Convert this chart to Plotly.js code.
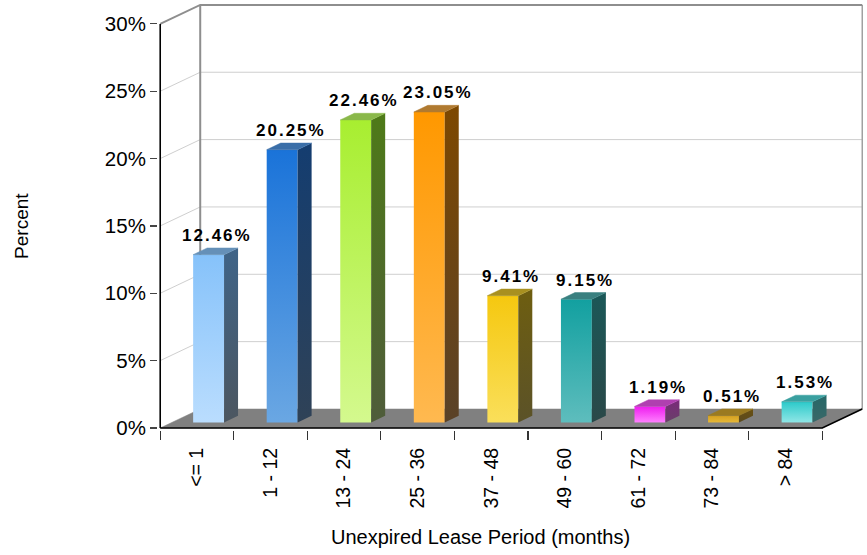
<!DOCTYPE html>
<html><head><meta charset="utf-8">
<script src="https://cdn.plot.ly/plotly-3.0.1.min.js"></script>
<style>html,body{margin:0;padding:0;background:#fff}</style>
</head><body><div id="chart" style="width:867px;height:555px"></div>
<script>
// ---- data ----
const categories = ["<= 1", "1 - 12", "13 - 24", "25 - 36", "37 - 48", "49 - 60", "61 - 72", "73 - 84", "> 84"];
const percents = [12.46, 20.25, 22.46, 23.05, 9.41, 9.15, 1.19, 0.51, 1.53];
const yTickValues = [0, 5, 10, 15, 20, 25, 30];
const yTickLabels = ["0%", "5%", "10%", "15%", "20%", "25%", "30%"];
const xTitle = "Unexpired Lease Period (months)";
const yTitle = "Percent";

// ---- styles ----
const frontTop    = ["#86C2FA","#1A73D9","#A8EE30","#FF9800","#F5C810","#12A0A0","#EE1CEE","#D4A020","#2CCACA"];
const frontBottom = ["#BADDFE","#6AA7E3","#D4F98E","#FFB950","#FADF5A","#5EBDBD","#FF80FF","#E6B838","#90E6E6"];
const sideTop     = ["#3F6488","#143D70","#4E7A18","#7D4800","#6E5E10","#1B5858","#7A2A7A","#6A5010","#266868"];
const sideBottom  = ["#4C5660","#2F4257","#4F5C3A","#5A4228","#5B5228","#2A4848","#684068","#5A4A20","#3A6868"];
const topFace     = ["#6590B8","#3A6EA8","#8AB84A","#B07A30","#A89020","#3A8080","#B040B0","#9A7A20","#3AA0A0"];

const DX = 0.544, DY = 1.41;       // depth offset (category units, percent units)
const W = 0.21, Z0 = 0.29, Z1 = 0.64, ZC = 0.5;
const FONT = "Liberation Sans, Arial, sans-serif";

function face(xs, ys, c0, c1, ystart, ystop){
  const t = {type:'scatter', mode:'lines', x:xs.concat([xs[0]]), y:ys.concat([ys[0]]),
    fill:'toself', line:{width:0.5, color:c1}, hoverinfo:'skip', showlegend:false};
  if (c0 === c1) { t.fillcolor = c1; }
  else { t.fillgradient = {type:'vertical', start:ystart, stop:ystop, colorscale:[[0, c0], [1, c1]]}; t.line.width = 0; }
  return t;
}
function line(xs, ys, color, width){
  return {type:'scatter', mode:'lines', x:xs, y:ys, line:{color:color, width:width}, hoverinfo:'skip', showlegend:false};
}

const traces = [];
const L = -0.5, R = categories.length - 0.5;
// back wall gridlines and left wall gridlines
yTickValues.forEach(v=>{
  if (v === 0 || v === 30) return;
  traces.push(line([L+DX, R+DX], [v+DY, v+DY], '#CFCFCF', 1));
  traces.push(line([L, L+DX], [v, v+DY], '#CFCFCF', 1));
});
// floor
traces.push(face([L, R, R+DX, L+DX], [0, 0, DY, DY], '#808080', '#808080'));
// walls edges
traces.push(line([L+DX, L+DX], [DY, 30+DY], '#8E8E8E', 2));
traces.push(line([R+DX, R+DX], [DY, 30+DY], '#A0A0A0', 1.5));
traces.push(line([L, L+DX, R+DX], [30, 30+DY, 30+DY], '#8E8E8E', 2));

// bars
percents.forEach((v, i)=>{
  const xl = i - W, xr = i + W;
  traces.push(face([xl+Z0*DX, xr+Z0*DX, xr+Z0*DX, xl+Z0*DX], [Z0*DY, Z0*DY, v+Z0*DY, v+Z0*DY],
    frontBottom[i], frontTop[i], Z0*DY, v+Z0*DY));
  traces.push(face([xr+Z0*DX, xr+Z1*DX, xr+Z1*DX, xr+Z0*DX], [Z0*DY, Z1*DY, v+Z1*DY, v+Z0*DY],
    sideBottom[i], sideTop[i], Z0*DY, v+Z1*DY));
  traces.push(face([xl+Z0*DX, xr+Z0*DX, xr+Z1*DX, xl+Z1*DX], [v+Z0*DY, v+Z0*DY, v+Z1*DY, v+Z1*DY],
    topFace[i], topFace[i]));
});

// front edges / axis line
traces.push(line([L, L], [0, 30], '#000000', 1.6));
traces.push(line([L, R, R+DX], [0, 0, DY], '#000000', 1.6));
// dummy for second x axis
traces.push({type:'scatter', x:[null], y:[null], xaxis:'x2', showlegend:false, hoverinfo:'skip'});

function esc(s){return s.replace(/&/g,'&amp;').replace(/</g,'&lt;').replace(/>/g,'&gt;');}

const annotations = percents.map((v,i)=>({
  x: i + ZC*DX, y: v + Z1*DY, xref:'x', yref:'y', xanchor:'center', yanchor:'bottom', yshift:1,
  text: '<span style="letter-spacing:2px">' + v.toFixed(2) + '%</span>', showarrow:false,
  font:{family:FONT, size:17, color:'#000', weight:'bold'}
}));
annotations.push({
  text: yTitle, xref:'paper', yref:'y', x:0, y:15, xshift:-136, xanchor:'center', yanchor:'middle', textangle:-90,
  showarrow:false, font:{family:FONT, size:19, color:'#000'}
});
annotations.push({
  text: xTitle, xref:'paper', yref:'paper', x:(480-158)/705, y:0, yshift:-107, xanchor:'center', yanchor:'middle',
  showarrow:false, font:{family:FONT, size:20, color:'#000'}
});

const layout = {
  width:867, height:555,
  margin:{l:158, r:4, t:3, b:125},
  paper_bgcolor:'#fff', plot_bgcolor:'#fff',
  showlegend:false,
  xaxis:{range:[-0.53, 9.054], showgrid:false, zeroline:false, showline:false,
    tickmode:'array', tickvals:categories.map((c,i)=>i), ticktext:categories.map(esc),
    tickangle:-90, ticks:'outside', ticklen:9, tickcolor:'rgba(0,0,0,0)',
    tickfont:{family:FONT, size:19.5, color:'#000'}},
  xaxis2:{overlaying:'x', anchor:'y', side:'bottom', matches:'x', range:[-0.53, 9.054],
    showgrid:false, zeroline:false, showline:false, showticklabels:false,
    tickmode:'array', tickvals:categories.map((c,i)=>i-0.5).concat([categories.length-0.5]),
    ticks:'outside', ticklen:9, tickcolor:'#333', tickwidth:1.2},
  yaxis:{range:[-0.15, 31.55], showgrid:false, zeroline:false, showline:false,
    tickmode:'array', tickvals:yTickValues, ticktext:yTickLabels,
    ticks:'outside', ticklen:7, tickcolor:'#444', tickwidth:1.2,
    tickfont:{family:FONT, size:20.5, color:'#000'}},
  annotations:annotations
};

Plotly.newPlot('chart', traces, layout, {staticPlot:true, displayModeBar:false});
</script></body></html>
